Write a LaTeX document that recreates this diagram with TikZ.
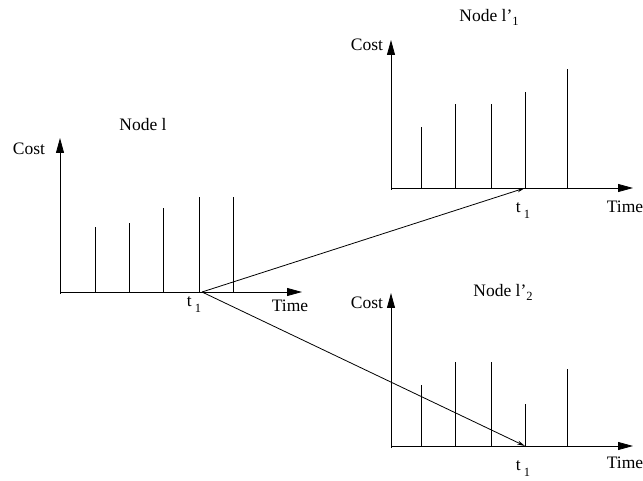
\documentclass[tikz,border=0pt]{standalone}
\usepackage{fontspec}
\setmainfont{Liberation Serif}
\usetikzlibrary{arrows.meta}
\begin{document}
\begin{tikzpicture}[x=1pt,y=-1pt,
  lbl/.style={inner sep=0pt,font=\fontsize{17.5}{20}\selectfont},
  axis/.style={line width=0.8pt,-{Triangle[length=15pt,width=8pt]}},
  bar/.style={line width=0.8pt},
  link/.style={line width=0.8pt,-{Stealth[length=8pt,width=4pt]}}]
\useasboundingbox (0,0) rectangle (643,481);
% chart origins
\coordinate (o1) at (60,292);
\coordinate (o2) at (391,188);
\coordinate (o3) at (391,446);
\coordinate (A) at (202,292);
\coordinate (B) at (525,188);
\coordinate (C) at (525,446);
% left chart
\draw[axis] (60,294) -- (60,138);
\draw[axis] (o1) -- (302,292);
\foreach \x/\t in {95/227,129/223,163/208,199/197,233/197}
  \draw[bar] (\x,292) -- (\x,\t);
\node[lbl] (n1) at (143,125) {Node l};
\node[lbl] (c1) at (29,149) {Cost};
\node[lbl] (t1) at (194,305) {t\,\raisebox{-6pt}{\fontsize{12.5}{13}\selectfont 1}};
\node[lbl] (tm1) at (290,306) {Time};
% top right chart
\draw[axis] (391,190) -- (391,40);
\draw[axis] (o2) -- (633,188);
\foreach \x/\t in {421/127,455/104,491/104,525/92,567/69}
  \draw[bar] (\x,188) -- (\x,\t);
\node[lbl] (n2) at (489,17) {Node l’\raisebox{-4pt}{\fontsize{12.5}{13}\selectfont 1}};
\node[lbl] (c2) at (367,45) {Cost};
\node[lbl] (t2) at (523,211) {t\,\raisebox{-6pt}{\fontsize{12.5}{13}\selectfont 1}};
\node[lbl] (tm2) at (625,207) {Time};
% bottom right chart
\draw[axis] (391,448) -- (391,293);
\draw[axis] (o3) -- (633,446);
\foreach \x/\t in {421/385,455/362,491/362,525/404,567/369}
  \draw[bar] (\x,446) -- (\x,\t);
\node[lbl] (n3) at (503,292) {Node l’\raisebox{-4pt}{\fontsize{12.5}{13}\selectfont 2}};
\node[lbl] (c3) at (367,303) {Cost};
\node[lbl] (t3) at (523,469) {t\,\raisebox{-6pt}{\fontsize{12.5}{13}\selectfont 1}};
\node[lbl] (tm3) at (625,463) {Time};
% connectors
\draw[link] (A) -- (B);
\draw[link] (A) -- (C);
\end{tikzpicture}
\end{document}
